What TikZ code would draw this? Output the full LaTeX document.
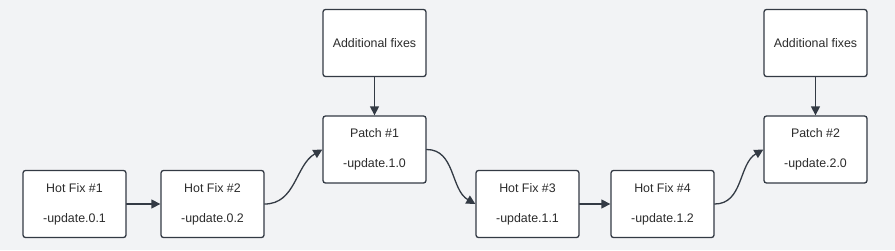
\documentclass[tikz,border=0pt]{standalone}
\usepackage{fontspec}
\setmainfont{Liberation Sans}
\usepackage{tikz}
\usetikzlibrary{arrows.meta}
\usepackage{xcolor}
\definecolor{bgpage}{HTML}{F2F3F5}
\definecolor{inkline}{HTML}{333A44}
\definecolor{inktext}{HTML}{2B2B2B}

\begin{document}
\begin{tikzpicture}[x=1pt,y=-1pt,>={Triangle[length=9pt,width=9pt]},line cap=round,
  font=\fontsize{12.4}{14}\selectfont,
  release/.style={draw=inkline,line width=1.3pt,fill=white,rounded corners=2.5pt,
    minimum width=103pt,minimum height=67pt,inner sep=0pt,align=center,text=inktext},
  link/.style={->,draw=inkline,line width=1.3pt}]
\fill[bgpage] (0,0) rectangle (895,250);
\useasboundingbox (0,0) rectangle (895,250);
\node[release] (hf1) at (74.5,204) {Hot Fix \#1\\[16pt]-update.0.1};
\node[release] (hf2) at (212.5,204) {Hot Fix \#2\\[16pt]-update.0.2};
\node[release] (p1) at (374.5,149.5) {Patch \#1\\[16pt]-update.1.0};
\node[release] (add1) at (374.5,43) {Additional fixes};
\node[release] (hf3) at (527.5,204) {Hot Fix \#3\\[16pt]-update.1.1};
\node[release] (hf4) at (662.5,204) {Hot Fix \#4\\[16pt]-update.1.2};
\node[release] (p2) at (815.5,149.5) {Patch \#2\\[16pt]-update.2.0};
\node[release] (add2) at (815.5,43) {Additional fixes};
% links
\draw[link] (hf1) -- (hf2);
\draw[link] (hf3) -- (hf4);
\draw[link] (add1) -- (p1);
\draw[link] (add2) -- (p2);
\draw[link] (hf2.east) to[out=0,in=210] (p1.west);
\draw[link] (p1.east) to[out=0,in=150] (hf3.west);
\draw[link] (hf4.east) to[out=0,in=210] (p2.west);
\end{tikzpicture}
\end{document}
